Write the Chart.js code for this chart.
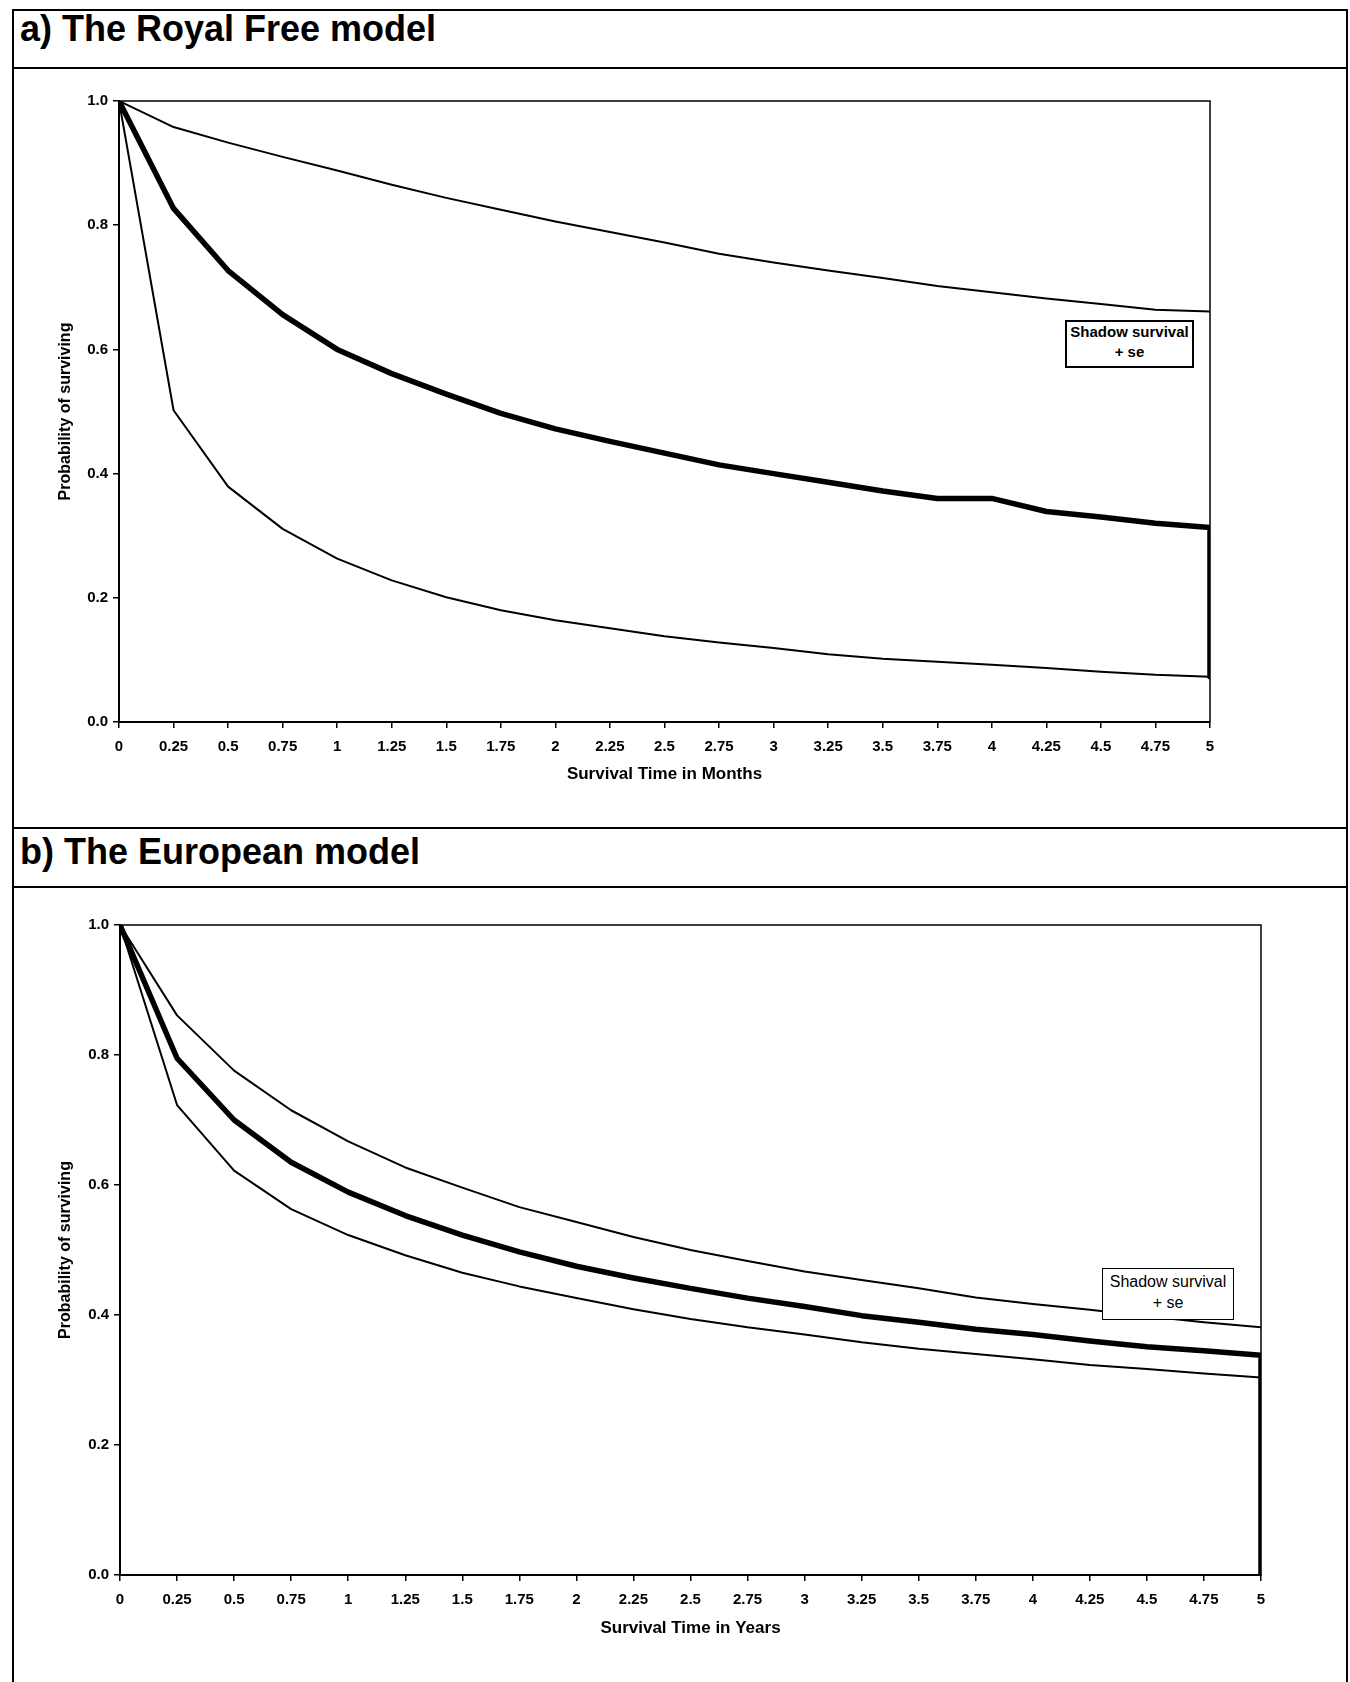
<!DOCTYPE html>
<html>
<head>
<meta charset="utf-8">
<script src="https://cdn.jsdelivr.net/npm/chart.js@4/dist/chart.umd.min.js"></script>
<style>
	body { margin: 0; background: #fff; }
	#page { position: relative; width: 1350px; height: 1682px; font-family: "Liberation Sans", Arial, sans-serif; color: #000; }
	.rule { position: absolute; background: #000; }
	.panelTitle { position: absolute; font-weight: bold; font-size: 36px; line-height: 36px; white-space: nowrap; }
	.legendBox { position: absolute; box-sizing: border-box; border: solid #000; background: #fff; text-align: center; white-space: nowrap; }
	canvas { position: absolute; }
</style>
</head>
<body>
<div id="page">
	<div class="rule" style="left:12px;top:9px;width:1336px;height:2px"></div>
	<div class="rule" style="left:12px;top:67px;width:1336px;height:2px"></div>
	<div class="rule" style="left:12px;top:827px;width:1336px;height:2px"></div>
	<div class="rule" style="left:12px;top:886px;width:1336px;height:2px"></div>
	<div class="rule" style="left:12px;top:9px;width:2px;height:1673px"></div>
	<div class="rule" style="left:1346px;top:9px;width:2px;height:1673px"></div>

	<div class="panelTitle" style="left:20px;top:11px">a) The Royal Free model</div>
	<div class="panelTitle" style="left:20px;top:834px">b) The European model</div>

	<canvas id="chartA" width="1332" height="758" style="left:14px;top:69px"></canvas>
	<canvas id="chartB" width="1332" height="793" style="left:14px;top:888px"></canvas>

	<div class="legendBox" style="left:1065px;top:320px;width:129px;height:48px;border-width:2.5px;font-weight:bold;font-size:15px;line-height:20px">Shadow survival<br>+ se</div>
	<div class="legendBox" style="left:1102px;top:1268px;width:132px;height:52px;border-width:1.5px;font-size:16px;line-height:21px;padding-top:2px">Shadow survival<br>+ se</div>
</div>
<script>
const times = [0, 0.25, 0.5, 0.75, 1, 1.25, 1.5, 1.75, 2, 2.25, 2.5, 2.75, 3, 3.25, 3.5, 3.75, 4, 4.25, 4.5, 4.75, 5];

// a) Royal Free model
const rfUpper = [1.0, 0.958, 0.933, 0.910, 0.888, 0.865, 0.844, 0.825, 0.806, 0.789, 0.772, 0.754, 0.740, 0.727, 0.715, 0.702, 0.692, 0.682, 0.673, 0.664, 0.661];
const rfShadow = [1.0, 0.827, 0.727, 0.656, 0.600, 0.561, 0.528, 0.497, 0.472, 0.452, 0.433, 0.414, 0.400, 0.386, 0.372, 0.360, 0.360, 0.339, 0.330, 0.320, 0.313];
const rfLower = [1.0, 0.502, 0.379, 0.311, 0.263, 0.228, 0.201, 0.180, 0.164, 0.151, 0.138, 0.128, 0.119, 0.109, 0.102, 0.097, 0.092, 0.087, 0.081, 0.076, 0.073];
const rfDrop = 0.073;

// b) European model
const euUpper = [1.0, 0.861, 0.776, 0.715, 0.667, 0.627, 0.596, 0.566, 0.543, 0.520, 0.500, 0.483, 0.467, 0.454, 0.441, 0.427, 0.417, 0.408, 0.398, 0.389, 0.381];
const euShadow = [1.0, 0.795, 0.700, 0.635, 0.589, 0.553, 0.523, 0.497, 0.475, 0.457, 0.441, 0.426, 0.413, 0.399, 0.389, 0.378, 0.370, 0.360, 0.351, 0.345, 0.338];
const euLower = [1.0, 0.723, 0.622, 0.563, 0.523, 0.492, 0.465, 0.444, 0.426, 0.409, 0.394, 0.381, 0.370, 0.358, 0.348, 0.340, 0.332, 0.323, 0.317, 0.310, 0.304];
const euDrop = 0;

Chart.defaults.font.family = "'Liberation Sans', Arial, sans-serif";
Chart.defaults.font.weight = "bold";
Chart.defaults.color = "#000";

// plot area frame like the Excel original
const frame = {
	id: "frame",
	afterDatasetsDraw(chart) {
		const { ctx, chartArea: a } = chart;
		ctx.save();
		ctx.strokeStyle = "#000";
		ctx.lineWidth = 1.5;
		ctx.strokeRect(a.left, a.top, a.right - a.left, a.bottom - a.top);
		ctx.restore();
	},
};

const toPoints = (ys) => ys.map((y, i) => ({ x: times[i], y: y }));

const makeChart = (id, upper, shadow, lower, drop, xTitle, box) => {
	const shadowPts = toPoints(shadow);
	shadowPts.push({ x: times[times.length - 1], y: drop });
	return new Chart(document.getElementById(id), {
		type: "line",
		data: {
			datasets: [
				{ data: toPoints(upper), borderColor: "#000", borderWidth: 2 },
				{ data: toPoints(lower), borderColor: "#000", borderWidth: 2 },
				{ data: shadowPts, borderColor: "#000", borderWidth: 5.5 },
			],
		},
		options: {
			responsive: false,
			animation: false,
			devicePixelRatio: 1,
			elements: { point: { radius: 0 }, line: { tension: 0, borderJoinStyle: "round" } },
			layout: { padding: { top: box.top, right: box.right, left: 0, bottom: 0 } },
			plugins: { legend: { display: false }, tooltip: { enabled: false } },
			scales: {
				x: {
					type: "linear",
					min: 0,
					max: 5,
					afterFit: (s) => { s.height = box.xh; },
					grid: { drawOnChartArea: false, drawTicks: true, tickLength: 6, color: "#000", lineWidth: 1.5 },
					border: { display: true, color: "#000", width: 2 },
					ticks: { stepSize: 0.25, padding: 10, font: { size: 15 }, maxRotation: 0, autoSkip: false, callback: (v) => String(v) },
					title: { display: true, text: xTitle, font: { size: 17 }, padding: { top: 0, bottom: 42 } },
				},
				y: {
					min: 0,
					max: 1,
					afterFit: (s) => { s.width = box.yw; },
					grid: { drawOnChartArea: false, drawTicks: true, tickLength: 6, color: "#000", lineWidth: 1.5 },
					border: { display: true, color: "#000", width: 2 },
					ticks: { stepSize: 0.2, padding: 5, font: { size: 15 }, callback: (v) => v.toFixed(1) },
					title: { display: true, text: "Probability of surviving", font: { size: 16 }, padding: { top: 42, bottom: 0 } },
				},
			},
		},
		plugins: [frame],
	});
};

makeChart("chartA", rfUpper, rfShadow, rfLower, rfDrop, "Survival Time in Months", { top: 32, right: 136, yw: 105, xh: 105 });
makeChart("chartB", euUpper, euShadow, euLower, euDrop, "Survival Time in Years", { top: 37, right: 85, yw: 106, xh: 106 });
</script>
</body>
</html>
